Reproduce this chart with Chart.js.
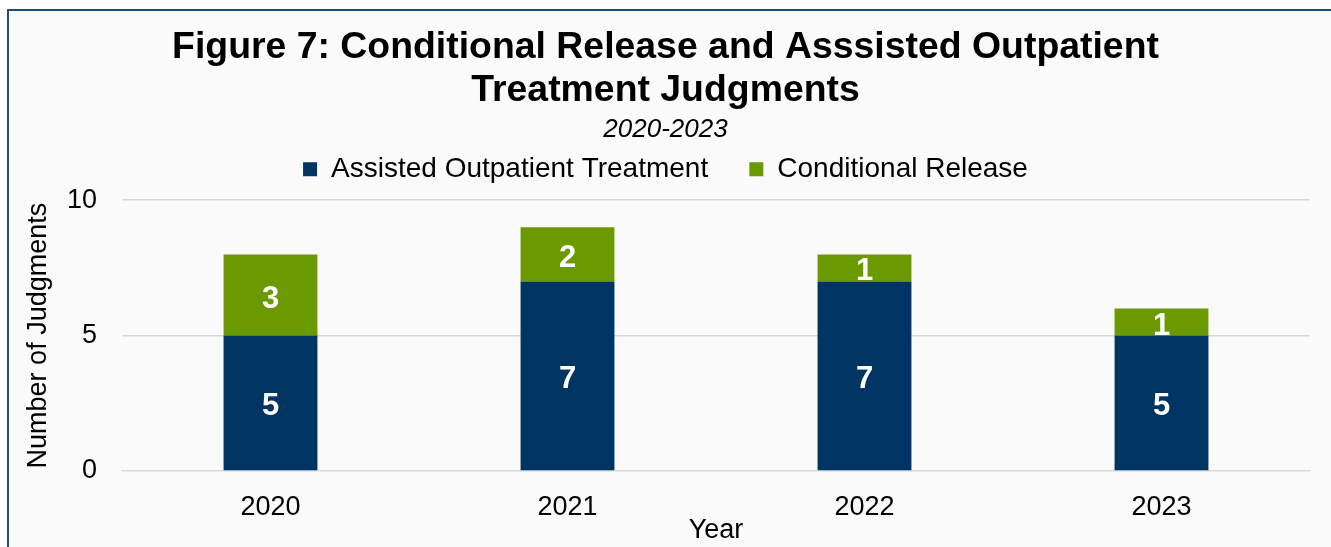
<!DOCTYPE html>
<html lang="en">
<head>
    <meta charset="UTF-8">
    <title>Conditional Release and Assisted Outpatient Treatment Judgments</title>
    <script src="https://cdn.jsdelivr.net/npm/chart.js"></script>
    <style>
        * { box-sizing: border-box; margin: 0; padding: 0; }
        body { background: #ffffff; width: 1331px; height: 547px; overflow: hidden; position: relative; font-family: "Liberation Sans", Arial, sans-serif; }
        .frame { position: absolute; left: 7px; top: 9px; width: 1400px; height: 600px; background: #fafafa; border-left: 2px solid #1f4e79; border-top: 2px solid #1f4e79; }
        .chart-box { position: absolute; left: 0; top: 0; width: 1331px; height: 547px; }
    </style>
</head>
<body>
    <div class="frame"></div>
    <div class="chart-box">
        <canvas id="judgmentsChart"></canvas>
    </div>

    <script>
        // Data
        const years = ['2020', '2021', '2022', '2023'];
        const aotJudgments = [5, 7, 7, 5];
        const conditionalRelease = [3, 2, 1, 1];
        const yTicks = [0, 5, 10];

        const FONT = '"Liberation Sans", Arial, sans-serif';

        // White numbers in the middle of each bar segment
        const barLabels = {
            id: 'barLabels',
            afterDatasetsDraw(chart) {
                const ctx = chart.ctx;
                ctx.save();
                ctx.fillStyle = '#ffffff';
                ctx.font = 'bold 31px ' + FONT;
                ctx.textAlign = 'center';
                ctx.textBaseline = 'middle';
                chart.data.datasets.forEach((ds, i) => {
                    const meta = chart.getDatasetMeta(i);
                    meta.data.forEach((bar, j) => {
                        const p = bar.getCenterPoint();
                        ctx.fillText(String(ds.data[j]), p.x, p.y + 4);
                    });
                });
                ctx.restore();
            }
        };

        // leave a bit more room under the legend than Chart.js gives
        const legendGap = {
            id: 'legendGap',
            beforeLayout(chart) {
                const lg = chart.legend;
                if (lg && !lg._gapPatched) {
                    const fit = lg.fit.bind(lg);
                    lg.fit = function () { fit(); this.height += 7; };
                    lg._gapPatched = true;
                }
            }
        };

        const ctx = document.getElementById('judgmentsChart').getContext('2d');
        new Chart(ctx, {
            type: 'bar',
            data: {
                labels: years,
                datasets: [
                    {
                        label: 'Assisted Outpatient Treatment',
                        data: aotJudgments,
                        backgroundColor: '#003462'
                    },
                    {
                        label: 'Conditional Release',
                        data: conditionalRelease,
                        backgroundColor: '#6a9a00'
                    }
                ]
            },
            options: {
                responsive: true,
                maintainAspectRatio: false,
                animation: false,
                layout: { padding: { left: 21, right: 21, top: 0, bottom: 0 } },
                datasets: {
                    bar: { categoryPercentage: 1, barPercentage: 0.316 }
                },
                plugins: {
                    title: {
                        display: true,
                        text: ['Figure 7: Conditional Release and Asssisted Outpatient', 'Treatment Judgments'],
                        color: '#000000',
                        font: { family: FONT, size: 37.4, weight: 'bold', lineHeight: 1.15 },
                        padding: { top: 26, bottom: 0 }
                    },
                    subtitle: {
                        display: true,
                        text: '2020-2023',
                        color: '#000000',
                        font: { family: FONT, size: 26, style: 'italic', lineHeight: 1.2 },
                        padding: { top: 2, bottom: 0 }
                    },
                    legend: {
                        display: true,
                        position: 'top',
                        labels: {
                            color: '#000000',
                            font: { family: FONT, size: 28 },
                            boxWidth: 14,
                            boxHeight: 14,
                            padding: 10,
                            // wider gap between the two entries, like the original
                            generateLabels(chart) {
                                const items = Chart.defaults.plugins.legend.labels.generateLabels(chart);
                                items.forEach((it, i) => {
                                    if (i < items.length - 1) it.text = it.text + '    ';
                                });
                                return items;
                            }
                        }
                    },
                    tooltip: { enabled: false }
                },
                scales: {
                    x: {
                        stacked: true,
                        grid: { display: false, drawTicks: false },
                        border: { display: false },
                        ticks: { color: '#000000', font: { family: FONT, size: 27 }, padding: 20 },
                        title: {
                            display: true,
                            text: 'Year',
                            color: '#000000',
                            font: { family: FONT, size: 27 },
                            padding: { top: 0, bottom: 0 }
                        },
                        afterFit(scale) { scale.height = 76; }
                    },
                    y: {
                        stacked: true,
                        min: 0,
                        max: 10,
                        afterBuildTicks(scale) { scale.ticks = yTicks.map(v => ({ value: v })); },
                        grid: { color: '#d9d9d9', lineWidth: 1.5, drawTicks: false },
                        border: { display: false },
                        ticks: { color: '#000000', font: { family: FONT, size: 27 }, padding: 25 },
                        title: {
                            display: true,
                            text: 'Number of Judgments',
                            color: '#000000',
                            font: { family: FONT, size: 27 },
                            padding: { top: 1, bottom: 0 }
                        },
                        afterFit(scale) { scale.width = 101; }
                    }
                }
            },
            plugins: [barLabels, legendGap]
        });
    </script>
</body>
</html>
